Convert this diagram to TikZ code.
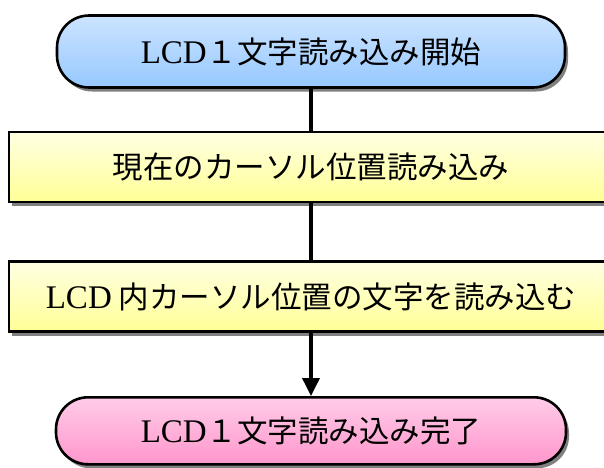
\documentclass[tikz,border=0pt]{standalone}
\usepackage{fontspec}
\setmainfont{Liberation Serif}
\newfontfamily\cjk{Noto Sans CJK JP}
\usepackage{tikz}
\usetikzlibrary{arrows.meta,positioning,shadows}
\definecolor{PillBlueTop}{RGB}{204,228,255}
\definecolor{PillBlueBot}{RGB}{150,200,255}
\definecolor{BoxYellowTop}{RGB}{255,255,226}
\definecolor{BoxYellowBot}{RGB}{255,255,150}
\definecolor{PillPinkTop}{RGB}{255,204,232}
\definecolor{PillPinkBot}{RGB}{255,150,204}
\tikzset{
  flowbase/.style={draw=black,line width=2.6pt,
    drop shadow={shadow xshift=3pt,shadow yshift=-4pt,fill=gray,opacity=1},
    font=\cjk\fontsize{30.5}{33}\selectfont,align=center,inner sep=0pt},
  startpill/.style={flowbase,rounded corners=32pt,minimum width=508pt,
    minimum height=72pt,top color=PillBlueTop,bottom color=PillBlueBot},
  endpill/.style={flowbase,rounded corners=32pt,minimum width=510pt,
    minimum height=67pt,top color=PillPinkTop,bottom color=PillPinkBot},
  procbox/.style={flowbase,minimum width=604pt,minimum height=70pt,
    top color=BoxYellowTop,bottom color=BoxYellowBot},
  link/.style={line width=3.6pt,black},
  arrow/.style={link,-{Triangle[length=18pt,width=17pt]}}
}
\begin{document}
\begin{tikzpicture}[x=1pt,y=1pt]
  \useasboundingbox (0,0) rectangle (604,-467);
  % flow nodes
  \node[startpill] (start) at (311,-51.5) {{\rmfamily\fontsize{33}{33}\selectfont LCD}１文字読み込み開始};
  \node[procbox,below=42pt of start] (readpos) {現在のカーソル位置読み込み};
  \node[procbox,below=57pt of readpos] (readchar) {{\rmfamily\fontsize{33}{33}\selectfont LCD} 内カーソル位置の文字を読み込む};
  \node[endpill,below=63pt of readchar] (finish) {{\rmfamily\fontsize{33}{33}\selectfont LCD}１文字読み込み完了};
  % connectors
  \draw[link] (start) -- (readpos);
  \draw[link] (readpos) -- (readchar);
  \draw[arrow] (readchar) -- (finish);
\end{tikzpicture}
\end{document}
